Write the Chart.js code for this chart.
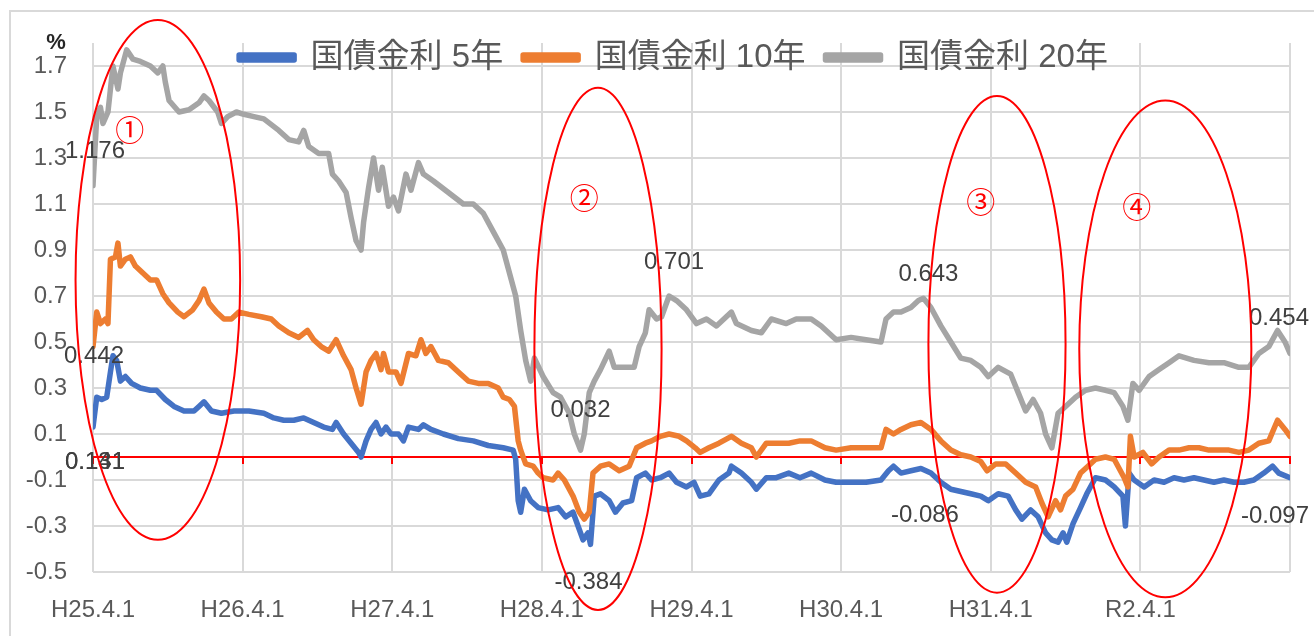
<!DOCTYPE html>
<html>
<head>
<meta charset="utf-8">
<script src="https://cdn.jsdelivr.net/npm/chart.js@4.4.1/dist/chart.umd.min.js"></script>
<style>
  html, body { margin: 0; padding: 0; background: #fff; }
  #wrap { width: 1314px; height: 636px; }
</style>
</head>
<body>
<div id="wrap"><canvas id="myChart" width="1314" height="636"></canvas></div>
<script>
// months counted from H25.4.1
const tickLabels = ["H25.4.1", "H26.4.1", "H27.4.1", "H28.4.1", "H29.4.1", "H30.4.1", "H31.4.1", "R2.4.1", ""];
const xTicks = [0, 12, 24, 36, 48, 60, 72, 84, 96];
const yTicks = [-0.5, -0.3, -0.1, 0.1, 0.3, 0.5, 0.7, 0.9, 1.1, 1.3, 1.5, 1.7];
const seriesNames = ["国債金利 5年", "国債金利 10年", "国債金利 20年"];

const months5 = [0,0.3,0.7,1.1,1.4,1.6,1.9,2.2,2.6,3.1, 3.8,4.6,5.1,5.8,6.5,7.3,8.1,8.5,8.9,9.5,
  10.3,11.3,12.5,13.7,14.5,15.3,16.1,16.9,17.7,18.5, 19.2,19.5,20.1,20.7,21.3,21.5,21.9,22.3,22.7,23.1,
  23.5,23.9,24.5,24.9,25.3,26.1,26.5,27.1,28.1,29.3, 30.5,31.7,32.9,33.7,33.9,34.1,34.3,34.6,35.1,35.7,
  36.5,37.3,37.9,38.5,38.9,39.3,39.7,39.9,40.2,40.7, 41.4,41.9,42.5,43.2,43.6,44.3,44.8,45.5,46.2,46.8,
  47.6,48.2,48.7,49.4,50.2,51.0,51.2,52.0,52.8,53.2, 54.0,54.8,55.8,56.7,57.6,58.7,59.6,60.8,62.0,63.2,
  63.8,64.2,64.8,65.6,66.4,67.2,68.0,68.8,69.6,70.4, 71.2,71.8,72.6,73.4,74.0,74.5,75.2,75.8,76.4,76.9,
  77.4,77.8,78.1,78.6,79.2,79.7,80.4,81.2,81.9,82.6, 82.8,83.1,83.5,84.3,85.1,85.9,86.7,87.5,88.3,89.1,
  89.9,90.7,91.5,92.3,93.1,93.9,94.6,95.1,96.0];
const yield5 = [0.13,0.26,0.25,0.26,0.37,0.44,0.42,0.33,0.35,0.32, 0.30,0.29,0.29,0.25,0.22,0.20,0.20,0.22,0.24,0.20,
  0.19,0.20,0.20,0.19,0.17,0.16,0.16,0.17,0.15,0.13, 0.12,0.15,0.10,0.06,0.02,0.00,0.07,0.12,0.15,0.10,
  0.13,0.10,0.10,0.07,0.13,0.12,0.14,0.12,0.10,0.08, 0.07,0.05,0.04,0.03,-0.01,-0.19,-0.24,-0.14,-0.19,-0.22,
  -0.23,-0.22,-0.26,-0.24,-0.30,-0.36,-0.33,-0.38,-0.17,-0.16, -0.19,-0.24,-0.20,-0.19,-0.09,-0.07,-0.10,-0.09,-0.07,-0.11,
  -0.13,-0.11,-0.17,-0.16,-0.10,-0.07,-0.04,-0.07,-0.11,-0.14, -0.09,-0.09,-0.07,-0.09,-0.07,-0.10,-0.11,-0.11,-0.11,-0.10,
  -0.06,-0.04,-0.07,-0.06,-0.05,-0.07,-0.11,-0.14,-0.15,-0.16, -0.17,-0.19,-0.16,-0.17,-0.23,-0.27,-0.23,-0.26,-0.33,-0.36,
  -0.37,-0.33,-0.37,-0.29,-0.22,-0.16,-0.09,-0.10,-0.13,-0.17, -0.30,-0.07,-0.10,-0.13,-0.10,-0.11,-0.09,-0.10,-0.09,-0.10,
  -0.11,-0.10,-0.11,-0.11,-0.10,-0.07,-0.04,-0.07,-0.09];

const months10 = [0,0.3,0.6,1.0,1.2,1.4,1.8,2.0,2.2,2.6, 3.0,3.4,4.0,4.6,5.1,5.6,6.1,6.8,7.3,8.0,
  8.5,8.9,9.3,9.9,10.5,11.1,11.7,12.5,13.5,14.3, 14.9,15.7,16.5,17.2,17.7,18.3,18.9,19.5,20.1,20.7,
  21.1,21.5,21.9,22.3,22.7,23.1,23.3,23.7,24.3,24.7, 25.3,25.9,26.3,26.7,27.1,27.7,28.5,29.3,30.1,30.9,
  31.7,32.5,32.9,33.4,33.8,34.1,34.3,34.7,35.3,35.7, 36.1,36.9,37.3,37.8,38.5,39.0,39.4,39.8,40.1,40.7,
  41.4,42.2,43.0,43.6,44.3,44.8,45.5,46.2,47.0,47.6, 48.3,48.7,49.4,50.2,51.2,52.0,52.8,53.2,54.0,54.8,
  55.8,56.7,57.6,58.7,59.6,60.8,62.0,63.2,63.6,64.2, 64.8,65.6,66.4,67.2,68.0,68.8,69.6,70.4,71.2,71.7,
  72.4,73.2,74.0,74.8,75.6,76.1,76.6,77.2,77.6,78.0, 78.6,79.2,79.8,80.4,81.2,81.9,82.7,83.0,83.2,83.5,
  84.2,84.9,85.5,86.3,87.1,87.9,88.7,89.5,90.3,91.1, 91.9,92.7,93.5,94.3,95.0,95.6,96.0];
const yield10 = [0.48,0.63,0.58,0.60,0.58,0.86,0.87,0.93,0.83,0.86, 0.87,0.83,0.80,0.77,0.77,0.71,0.67,0.63,0.61,0.64,
  0.68,0.73,0.67,0.63,0.60,0.60,0.63,0.62,0.61,0.60, 0.57,0.54,0.52,0.55,0.51,0.48,0.46,0.51,0.44,0.38,
  0.30,0.23,0.37,0.42,0.45,0.38,0.45,0.37,0.37,0.32, 0.45,0.44,0.51,0.45,0.48,0.42,0.41,0.37,0.33,0.32,
  0.32,0.30,0.26,0.25,0.22,0.07,0.03,-0.03,-0.04,-0.07, -0.09,-0.10,-0.07,-0.10,-0.17,-0.24,-0.27,-0.24,-0.07,-0.04,
  -0.03,-0.06,-0.04,0.04,0.06,0.07,0.09,0.10,0.09,0.07, 0.04,0.02,0.04,0.06,0.09,0.06,0.04,0.00,0.06,0.06,
  0.06,0.07,0.07,0.04,0.03,0.04,0.04,0.04,0.12,0.10, 0.12,0.14,0.15,0.12,0.07,0.03,0.01,0.00,-0.02,-0.06,
  -0.03,-0.03,-0.07,-0.11,-0.13,-0.20,-0.26,-0.19,-0.23,-0.17, -0.14,-0.07,-0.04,-0.01,0.00,-0.01,-0.09,-0.13,0.09,0.00,
  0.02,-0.03,0.00,0.03,0.03,0.04,0.04,0.03,0.03,0.03, 0.02,0.03,0.06,0.07,0.16,0.12,0.09];

const months20 = [0,0.3,0.6,0.8,1.2,1.6,2.0,2.2,2.7,3.2, 3.8,4.6,5.2,5.6,5.8,6.1,6.9,7.7,8.5,8.9,
  9.3,10.0,10.3,10.8,11.5,12.1,12.9,13.7,14.9,15.7, 16.5,16.9,17.3,18.1,18.9,19.2,19.7,20.3,20.7,21.1,
  21.5,21.7,22.1,22.5,22.9,23.2,23.7,24.1,24.5,25.1, 25.5,26.1,26.5,27.3,28.5,29.7,30.5,31.3,32.1,32.9,
  33.4,33.9,34.3,34.7,35.1,35.4,36.1,36.9,37.5,38.2, 38.6,39.1,39.4,39.8,40.2,40.7,41.4,41.8,42.5,43.4,
  43.8,44.3,44.6,45.2,45.6,46.2,46.8,47.6,48.4,49.2, 50.0,51.2,51.6,52.8,53.6,54.4,55.6,56.4,57.6,58.4,
  59.6,60.8,62.0,63.2,63.6,64.2,64.8,65.6,66.2,66.6, 67.2,68.0,68.8,69.6,70.4,71.2,71.8,72.6,73.6,74.2,
  74.8,75.4,76.0,76.4,76.9,77.4,78.0,78.8,79.6,80.4, 81.2,81.9,82.6,83.0,83.4,83.9,84.7,85.5,86.3,87.1,
  88.3,89.5,90.7,91.9,92.7,93.5,94.3,95.0,95.6,96.0];
const yield20 = [1.18,1.48,1.52,1.45,1.50,1.70,1.60,1.67,1.77,1.73, 1.72,1.70,1.67,1.70,1.63,1.55,1.50,1.51,1.54,1.57,
  1.55,1.50,1.45,1.48,1.50,1.49,1.48,1.47,1.42,1.38, 1.37,1.42,1.35,1.32,1.32,1.23,1.20,1.15,1.04,0.94,
  0.90,1.02,1.17,1.30,1.16,1.26,1.09,1.13,1.07,1.23, 1.16,1.28,1.23,1.20,1.15,1.10,1.10,1.06,0.98,0.90,
  0.80,0.70,0.55,0.42,0.33,0.43,0.35,0.28,0.26,0.19, 0.10,0.03,0.10,0.28,0.33,0.38,0.46,0.39,0.39,0.39,
  0.48,0.54,0.64,0.60,0.61,0.70,0.68,0.64,0.58,0.60, 0.57,0.63,0.58,0.55,0.54,0.60,0.58,0.60,0.60,0.57,
  0.51,0.52,0.51,0.50,0.60,0.63,0.63,0.65,0.68,0.69, 0.65,0.57,0.50,0.43,0.42,0.39,0.35,0.39,0.36,0.28,
  0.20,0.25,0.19,0.10,0.04,0.19,0.22,0.26,0.29,0.30, 0.29,0.28,0.22,0.16,0.32,0.29,0.35,0.38,0.41,0.44,
  0.42,0.41,0.41,0.39,0.39,0.45,0.48,0.55,0.50,0.45];

// data labels: series index, month of the point, text, offset in px
const pointLabels = [
  { series: 2, at: 0, text: "1.176", dx: 2, dy: -34 },
  { series: 0, at: 1.6, text: "0.442", dx: -19, dy: 1 },
  { series: 0, at: 0, text: "0.131", dx: 2, dy: 35 },
  { series: 0, at: 0, text: "0.141", dx: 2, dy: 35 },
  { series: 2, at: 39.1, text: "0.032", dx: 0, dy: -40 },
  { series: 0, at: 39.9, text: "-0.384", dx: -2, dy: 38 },
  { series: 2, at: 46.2, text: "0.701", dx: 5, dy: -34 },
  { series: 2, at: 66.6, text: "0.643", dx: 5, dy: -24 },
  { series: 0, at: 66.4, text: "-0.086", dx: 4, dy: 47 },
  { series: 2, at: 96, text: "0.454", dx: -11, dy: -35 },
  { series: 0, at: 96, text: "-0.097", dx: -15, dy: 39 },
];

// red rings: centre (month, value), radii (months, value), mark and its place
const rings = [
  { month: 5.2, value: 0.77, rx: 6.6, ry: 1.13, mark: "①", mMonth: 2.95, mValue: 1.42 },
  { month: 40.5, value: 0.47, rx: 5.1, ry: 1.135, mark: "②", mMonth: 39.4, mValue: 1.126 },
  { month: 72.5, value: 0.49, rx: 5.5, ry: 1.08, mark: "③", mMonth: 71.2, mValue: 1.109 },
  { month: 86.0, value: 0.47, rx: 6.9, ry: 1.08, mark: "④", mMonth: 83.7, mValue: 1.087 },
];

const numFont = "'Liberation Sans', Arial, sans-serif";
const jpFont = "'Liberation Sans', 'Noto Sans CJK JP', sans-serif";
const seriesMonths = [months5, months10, months20];

function toPoints(xs, ys) {
  return xs.map((m, i) => ({ x: m, y: ys[i] }));
}

const overlay = {
  id: "overlay",
  afterLayout(chart) {
    // legend sits inside the plot like the excel one, so let it draw below its box
    const lg = chart.legend;
    lg.left = 46;
    lg.bottom = lg.top + 80;
    lg.height = 80;
  },
  beforeDraw(chart) {
    const ctx = chart.ctx;
    ctx.save();
    ctx.fillStyle = "#fff";
    ctx.fillRect(0, 0, chart.width, chart.height);
    ctx.strokeStyle = "#d9d9d9";
    ctx.lineWidth = 2;
    ctx.strokeRect(10, 11, chart.width + 20, chart.height + 20);
    ctx.restore();
  },
  afterDraw(chart) {
    const { ctx, chartArea } = chart;
    const x = chart.scales.x, y = chart.scales.y;
    ctx.save();
    ctx.textAlign = "center";
    ctx.textBaseline = "middle";

    ctx.fillStyle = "#262626";
    ctx.font = "bold 22px " + numFont;
    ctx.fillText("%", chartArea.left - 37, y.getPixelForValue(1.8));

    ctx.fillStyle = "#404040";
    ctx.font = "24px " + numFont;
    pointLabels.forEach(l => {
      const xs = seriesMonths[l.series];
      let idx = 0;
      xs.forEach((m, i) => { if (Math.abs(m - l.at) < Math.abs(xs[idx] - l.at)) idx = i; });
      const pt = chart.getDatasetMeta(l.series).data[idx];
      ctx.fillText(l.text, pt.x + l.dx, pt.y + l.dy);
    });

    ctx.strokeStyle = "#ff0000";
    ctx.fillStyle = "#ff0000";
    ctx.lineWidth = 2;
    ctx.font = "29px 'Noto Sans CJK JP', sans-serif";
    rings.forEach(r => {
      const cx = x.getPixelForValue(r.month);
      const cy = y.getPixelForValue(r.value);
      const rx = x.getPixelForValue(r.month + r.rx) - cx;
      const ry = y.getPixelForValue(r.value - r.ry) - cy;
      ctx.beginPath();
      ctx.ellipse(cx, cy, rx, ry, 0, 0, Math.PI * 2);
      ctx.stroke();
      ctx.fillText(r.mark, x.getPixelForValue(r.mMonth), y.getPixelForValue(r.mValue));
    });
    ctx.restore();
  }
};

const data = {
  datasets: [
    { label: seriesNames[0], data: toPoints(months5, yield5), borderColor: "#4472c4", backgroundColor: "#4472c4", order: 3 },
    { label: seriesNames[1], data: toPoints(months10, yield10), borderColor: "#ed7d31", backgroundColor: "#ed7d31", order: 2 },
    { label: seriesNames[2], data: toPoints(months20, yield20), borderColor: "#a5a5a5", backgroundColor: "#a5a5a5", order: 1 },
  ],
};

const config = {
  type: "line",
  data: data,
  options: {
    responsive: false,
    animation: false,
    devicePixelRatio: 1,
    elements: {
      line: { borderWidth: 5.5, tension: 0, borderJoinStyle: "round", borderCapStyle: "round" },
      point: { radius: 0 },
    },
    layout: { padding: { left: 0, right: 13, top: 21, bottom: 11 } },
    plugins: {
      legend: {
        position: "top",
        maxHeight: 22,
        labels: {
          boxWidth: 55,
          boxHeight: 5,
          padding: 20,
          color: "#595959",
          font: { family: jpFont, size: 33 },
          sort: (a, b) => a.datasetIndex - b.datasetIndex,
        },
      },
      tooltip: { enabled: false },
    },
    scales: {
      x: {
        type: "linear",
        min: 0,
        max: 96,
        afterBuildTicks: s => { s.ticks = xTicks.map(v => ({ value: v })); },
        afterFit: s => { s.height = 53; },
        ticks: {
          callback: (v, i) => tickLabels[i],
          color: "#595959",
          font: { family: numFont, size: 24 },
          padding: 24,
          maxRotation: 0,
          autoSkip: false,
        },
        grid: { color: "#d9d9d9", lineWidth: 2, drawTicks: false },
        border: { display: false },
      },
      zero: {
        type: "linear",
        axis: "x",
        position: { y: 0 },
        min: 0,
        max: 96,
        z: 1,
        afterBuildTicks: s => { s.ticks = xTicks.map(v => ({ value: v })); },
        ticks: { display: false },
        grid: { drawOnChartArea: false, drawTicks: true, tickLength: 6, color: "#ff0000", lineWidth: 2 },
        border: { color: "#ff0000", width: 2 },
      },
      y: {
        type: "linear",
        min: -0.5,
        max: 1.8,
        afterBuildTicks: s => { s.ticks = yTicks.map(v => ({ value: v })); },
        afterFit: s => { s.width = 93; },
        ticks: {
          callback: v => v.toFixed(1),
          color: "#595959",
          font: { family: numFont, size: 24 },
          padding: 26,
        },
        grid: { color: "#d9d9d9", lineWidth: 2, drawTicks: false },
        border: { display: false },
      },
    },
  },
  plugins: [overlay],
};

const myChart = new Chart(document.getElementById("myChart"), config);
</script>
</body>
</html>
